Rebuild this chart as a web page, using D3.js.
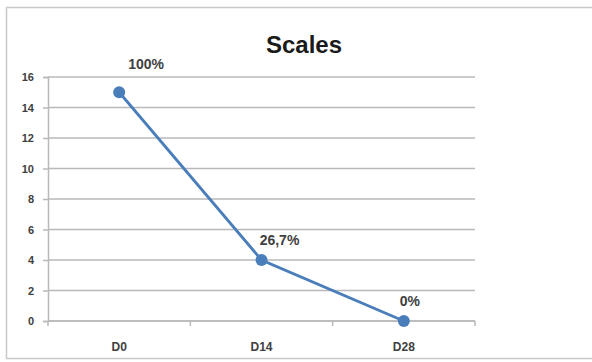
<!DOCTYPE html>
<html>
<head>
<meta charset="utf-8">
<script src="https://cdn.jsdelivr.net/npm/d3@7/dist/d3.min.js"></script>
<style>
  html, body { margin: 0; padding: 0; background: #fff; }
  svg { display: block; }
</style>
</head>
<body>
<svg id="chart" width="592" height="362"></svg>
<script>
// Scale scores at each visit
const categories = ["D0", "D14", "D28"];
const values = [15, 4, 0];
const valueLabels = ["100%", "26,7%", "0%"];
const yTicks = [0, 2, 4, 6, 8, 10, 12, 14, 16];
const title = "Scales";

const W = 592, H = 362;
const margin = { left: 48, right: 117, top: 77, bottom: 41 };
const lineColor = "#4a7ebb";
const gridColor = "#b9b9b9";
const labelShift = [[27, -23], [18, -15], [6, -15]]; // label offsets from points

const svg = d3.select("#chart");

// outer chart frame
svg.append("rect")
  .attr("x", 6.5).attr("y", 7.5)
  .attr("width", W + 10).attr("height", 351)
  .attr("fill", "#fff")
  .attr("stroke", "#c8c8c8").attr("stroke-width", 1.5);

const x = d3.scaleBand()
  .domain(categories)
  .range([margin.left, W - margin.right]);

const y = d3.scaleLinear()
  .domain([0, 16])
  .range([H - margin.bottom, margin.top]);

// horizontal gridlines
svg.append("g")
  .selectAll("line")
  .data(yTicks)
  .join("line")
  .attr("x1", margin.left).attr("x2", W - margin.right)
  .attr("y1", d => y(d)).attr("y2", d => y(d))
  .attr("stroke", gridColor).attr("stroke-width", 1.5);

// y axis
const yAxis = svg.append("g")
  .attr("transform", `translate(${margin.left},0)`)
  .call(d3.axisLeft(y).tickValues(yTicks).tickSize(5).tickPadding(9));
yAxis.select(".domain").attr("stroke", gridColor).attr("stroke-width", 1.5);
yAxis.selectAll(".tick line").attr("stroke", gridColor).attr("stroke-width", 1.5);
yAxis.selectAll("text")
  .attr("fill", "#404040")
  .style("font-family", "'Liberation Sans', Arial, sans-serif")
  .style("font-size", "11px")
  .style("font-weight", "bold");

// x axis with boundary ticks between categories
const xAxisG = svg.append("g")
  .attr("transform", `translate(0,${y(0)})`);
xAxisG.append("line")
  .attr("x1", margin.left).attr("x2", W - margin.right)
  .attr("stroke", gridColor).attr("stroke-width", 1.5);
const bounds = categories.map(c => x(c)).concat([x(categories[categories.length - 1]) + x.bandwidth()]);
xAxisG.selectAll("line.bt")
  .data(bounds)
  .join("line")
  .attr("class", "bt")
  .attr("x1", d => d).attr("x2", d => d)
  .attr("y1", 0).attr("y2", 5)
  .attr("stroke", gridColor).attr("stroke-width", 1.5);
xAxisG.selectAll("text")
  .data(categories)
  .join("text")
  .attr("x", d => x(d) + x.bandwidth() / 2)
  .attr("y", 30)
  .attr("text-anchor", "middle")
  .attr("fill", "#404040")
  .style("font-family", "'Liberation Sans Narrow', 'Liberation Sans', Arial, sans-serif")
  .style("font-size", "12px")
  .style("font-weight", "bold")
  .text(d => d);

// data line
const pts = categories.map((c, i) => ({ c, v: values[i], label: valueLabels[i], i }));
const line = d3.line()
  .x(d => x(d.c) + x.bandwidth() / 2)
  .y(d => y(d.v));

svg.append("path")
  .datum(pts)
  .attr("d", line)
  .attr("fill", "none")
  .attr("stroke", lineColor)
  .attr("stroke-width", 2.8);

svg.append("g")
  .selectAll("circle")
  .data(pts)
  .join("circle")
  .attr("cx", d => x(d.c) + x.bandwidth() / 2)
  .attr("cy", d => y(d.v))
  .attr("r", 6)
  .attr("fill", lineColor);

// value labels
svg.append("g")
  .selectAll("text")
  .data(pts)
  .join("text")
  .attr("x", d => x(d.c) + x.bandwidth() / 2 + labelShift[d.i][0])
  .attr("y", d => y(d.v) + labelShift[d.i][1])
  .attr("text-anchor", "middle")
  .attr("fill", "#404040")
  .style("font-family", "'Liberation Sans', Arial, sans-serif")
  .style("font-size", "14px")
  .style("font-weight", "bold")
  .text(d => d.label);

// title
svg.append("text")
  .attr("x", 304)
  .attr("y", 53)
  .attr("text-anchor", "middle")
  .attr("fill", "#1a1a1a")
  .style("font-family", "'Liberation Sans', Arial, sans-serif")
  .style("font-size", "24px")
  .style("font-weight", "bold")
  .text(title);
</script>
</body>
</html>
